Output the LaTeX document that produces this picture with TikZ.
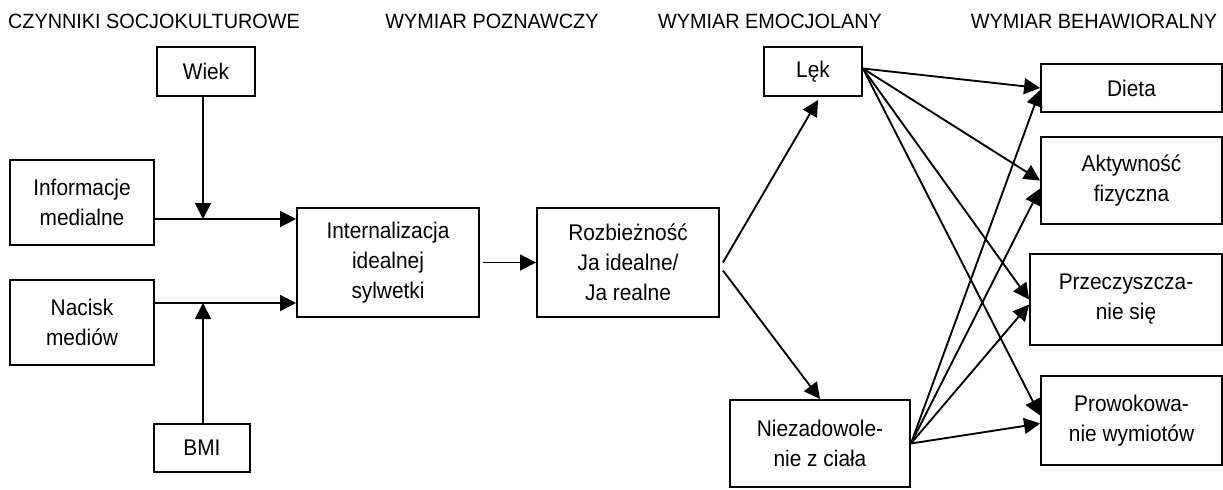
\documentclass[tikz,border=0pt]{standalone}
\usepackage{fontspec}
\setmainfont{Liberation Sans}
\newfontfamily\boxfont{Liberation Sans}[FakeStretch=0.92]
\newfontfamily\headfont{Liberation Sans}[FakeStretch=0.96]
\usetikzlibrary{arrows.meta}
\newdimen\pxu \pxu=0.75pt

\begin{document}
\begin{tikzpicture}[x=0.75pt,y=-0.75pt,
    box/.style={draw,line width=1.4pt,align=center,inner sep=0pt,
      font=\boxfont\fontsize{17}{22.5}\selectfont},
    arr/.style={line width=1.4pt,-{Triangle[length=12pt,width=12pt]}},
    head/.style={font=\headfont\fontsize{15.5}{18}\selectfont}]
    \useasboundingbox (0,0) rectangle (1223,489);
    % naglowki
    \node[head] (h1) at (154,21) {CZYNNIKI SOCJOKULTUROWE};
    \node[head] (h2) at (492,21) {WYMIAR POZNAWCZY};
    \node[head] (h3) at (770,21) {WYMIAR EMOCJOLANY};
    \node[head] (h4) at (1094,21) {WYMIAR BEHAWIORALNY};
    % czynniki
    \node[box,minimum width=98\pxu,minimum height=49\pxu] (wiek) at (206,71.5) {Wiek};
    \node[box,minimum width=144\pxu,minimum height=85\pxu] (info) at (82,202.5) {Informacje\\medialne};
    \node[box,minimum width=144\pxu,minimum height=85\pxu] (nacisk) at (82,322.5) {Nacisk\\mediów};
    \node[box,minimum width=96\pxu,minimum height=48\pxu] (bmi) at (202,448) {BMI};
    \node[box,minimum width=182\pxu,minimum height=109\pxu] (intern) at (388,262.5) {Internalizacja\\idealnej\\sylwetki};
    \node[box,minimum width=182\pxu,minimum height=109\pxu] (rozb) at (628,262.5) {Rozbieżność\\Ja idealne/\\Ja realne};
    \node[box,minimum width=98\pxu,minimum height=49\pxu] (lek) at (813,71.5) {Lęk};
    \node[box,minimum width=180\pxu,minimum height=87\pxu] (niez) at (820,443.5) {Niezadowole-\\nie z ciała};
    \node[box,minimum width=181\pxu,minimum height=48\pxu] (dieta) at (1131.5,88) {Dieta};
    \node[box,minimum width=181\pxu,minimum height=87\pxu] (aktyw) at (1131.5,180.5) {Aktywność\\fizyczna};
    \node[box,minimum width=192\pxu,minimum height=91\pxu] (przecz) at (1126,299.5) {Przeczyszcza-\\nie się};
    \node[box,minimum width=181\pxu,minimum height=89\pxu] (prowok) at (1131.5,420.5) {Prowokowa-\\nie wymiotów};
    % punkty zbiegu
    \coordinate (j1) at (203,219);
    \coordinate (j2) at (203,303);
    % strzalki
    \draw[line width=1.4pt] (info.east |- j1) -- (j1);
    \draw[arr] (j1) -- (intern.west |- j1);
    \draw[arr] (wiek.south -| j1) -- (j1);
    \draw[line width=1.4pt] (nacisk.east |- j2) -- (j2);
    \draw[arr] (j2) -- (intern.west |- j2);
    \draw[arr] (bmi.north -| j2) -- (j2);
    \draw[arr] ([xshift=3\pxu]intern.east) -- (rozb.west);
    \draw[arr] ([xshift=3\pxu]rozb.east) -- ([xshift=5\pxu,yshift=-3\pxu]lek.south);
    \draw[arr] ([xshift=3\pxu,yshift=-8\pxu]rozb.east) -- (niez.north);
    \foreach \t/\dy in {dieta/0,aktyw/0,przecz/0,prowok/5}
      \draw[arr] ([yshift=3\pxu]lek.east) -- ([yshift=\dy\pxu]\t.west);
    \foreach \t/\dy in {dieta/-2,aktyw/-8,przecz/-5,prowok/-3}
      \draw[arr] (niez.east) -- ([yshift=\dy\pxu]\t.west);
\end{tikzpicture}
\end{document}
